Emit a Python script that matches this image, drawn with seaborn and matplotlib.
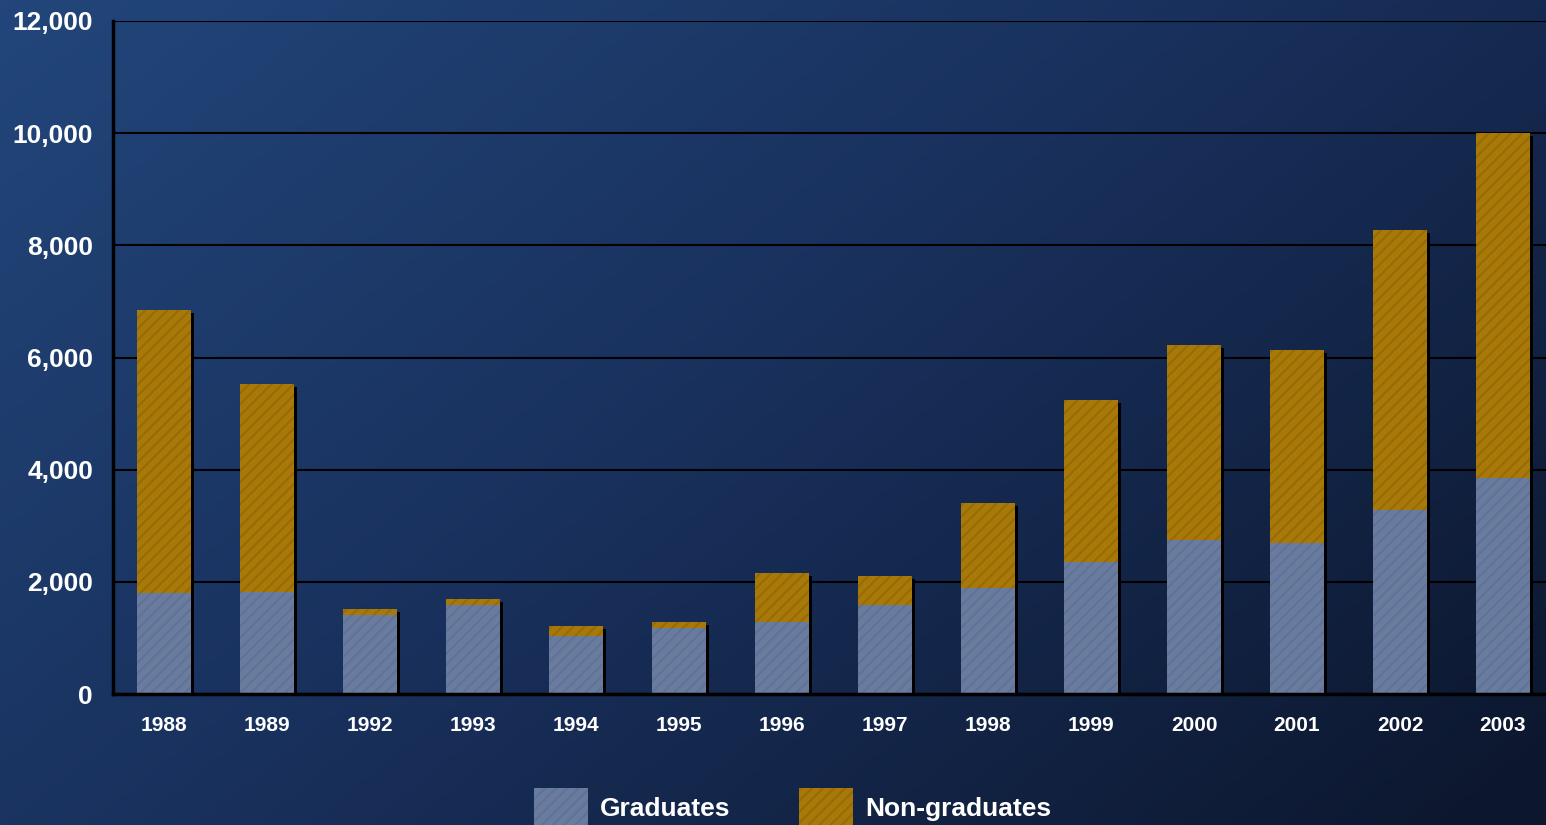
import numpy as np
import pandas as pd
import seaborn as sns
import matplotlib.pyplot as plt
from matplotlib.patches import Patch
from matplotlib.transforms import ScaledTranslation
from matplotlib.colors import LinearSegmentedColormap

# data
years = ['1988', '1989', '1992', '1993', '1994', '1995', '1996',
         '1997', '1998', '1999', '2000', '2001', '2002', '2003']
graduates = [1800, 1820, 1400, 1580, 1040, 1170, 1290,
             1590, 1890, 2360, 2750, 2700, 3280, 3850]
non_graduates = [5050, 3710, 110, 120, 170, 120, 870,
                 510, 1520, 2880, 3470, 3430, 4990, 6150]

blue = '#6a7c9e'
blue_hatch = '#60729a'
gold = '#a87908'
gold_hatch = '#966c07'

df = pd.DataFrame({'year': years, 'graduates': graduates,
                   'non_graduates': non_graduates})
df['total'] = df['graduates'] + df['non_graduates']

sns.set_style('white')
plt.rcParams['font.family'] = ['Liberation Sans', 'DejaVu Sans']
plt.rcParams['hatch.linewidth'] = 1.5

fig = plt.figure(figsize=(15.46, 8.25), dpi=100)

# gradient background
bg = fig.add_axes([0, 0, 1, 1], zorder=0)
gx, gy = np.meshgrid(np.linspace(0, 1, 400), np.linspace(0, 1, 220))
grad = 0.6 * gx + 0.4 * gy
cmap = LinearSegmentedColormap.from_list('bg', ['#22467b', '#182f5a', '#0c162c'])
bg.imshow(grad, cmap=cmap, aspect='auto', extent=[0, 1, 0, 1])
bg.axis('off')

ax = fig.add_axes([112.5 / 1546, 131 / 825, 1442 / 1546, 673 / 825], zorder=1)
ax.set_facecolor('none')

# black drop shadow, shifted right/down a few pixels
shift = ScaledTranslation(3 / 100, -3 / 100, fig.dpi_scale_trans)
sns.barplot(data=df, x='year', y='total', color='black', saturation=1, width=0.525,
            errorbar=None, ax=ax, linewidth=0)
for p in ax.patches:
    p.set_transform(ax.transData + shift)
    p.set_zorder(2)
n_shadow = len(ax.patches)

sns.barplot(data=df, x='year', y='total', color=gold, saturation=1, width=0.525,
            errorbar=None, ax=ax, hatch='///', edgecolor=gold_hatch, linewidth=0)
sns.barplot(data=df, x='year', y='graduates', color=blue, saturation=1, width=0.525,
            errorbar=None, ax=ax, hatch='///', edgecolor=blue_hatch, linewidth=0)
for p in ax.patches[n_shadow:]:
    p.set_zorder(3)

ax.set_ylim(0, 12000)
ax.set_xlim(-0.5, 13.5)
ax.set_yticks(range(0, 12001, 2000))
ax.set_yticklabels([f'{v:,}' for v in range(0, 12001, 2000)])
ax.yaxis.grid(True, color='black', linewidth=1.5, zorder=1)
ax.set_axisbelow(True)

ax.set_xticks(np.arange(0.5, 13.5, 1), minor=True)
ax.tick_params(axis='x', which='major', length=0, pad=16,
               labelsize=15, labelcolor='white')
ax.tick_params(axis='x', which='minor', length=7, width=2, color='black', direction='out')
ax.tick_params(axis='y', length=7, width=2, color='black', direction='out',
               labelsize=19, labelcolor='white', pad=7)
for lab in ax.get_xticklabels() + ax.get_yticklabels():
    lab.set_fontweight('bold')

for side in ['top', 'right']:
    ax.spines[side].set_visible(False)
for side in ['left', 'bottom']:
    ax.spines[side].set_color('black')
    ax.spines[side].set_linewidth(2.5)
    ax.spines[side].set_zorder(4)
ax.set_xlabel('')
ax.set_ylabel('')

handles = [Patch(facecolor=blue, edgecolor=blue_hatch, hatch='///', linewidth=0, label='Graduates'),
           Patch(facecolor=gold, edgecolor=gold_hatch, hatch='///', linewidth=0, label='Non-graduates')]
leg = fig.legend(handles=handles, loc='upper left', bbox_to_anchor=(534 / 1546, 1 - 788 / 825),
                 ncol=2, frameon=False, prop={'size': 19, 'weight': 'bold'},
                 labelcolor='white', handlelength=2.05, handleheight=1.9,
                 handletextpad=0.45, columnspacing=2.6, borderpad=0, borderaxespad=0)

fig.savefig('out.png', dpi=100)
